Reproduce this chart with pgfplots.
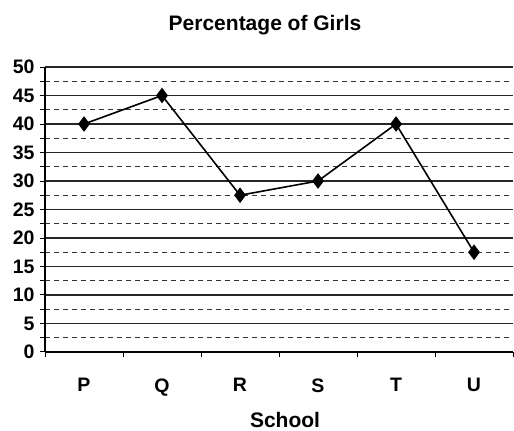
\documentclass[border=0pt]{standalone}
\usepackage{pgfplots}
\pgfplotsset{compat=1.18}
\usepackage{fontspec}
\setmainfont{Liberation Sans}
\begin{document}
\begin{tikzpicture}
\useasboundingbox (0,0) rectangle (514pt,431pt);
\begin{axis}[
  at={(45pt,79pt)}, anchor=origin,
  scale only axis, width=468pt, height=285pt,
  xmin=0, xmax=6, ymin=0, ymax=50,
  axis x line*=bottom, axis y line*=left,
  axis line style={line width=1.6pt},
  x axis line style={-}, y axis line style={-},
  xtick={0.5,1.5,2.5,3.5,4.5,5.5},
  xticklabels={P,Q,R,S,T,U},
  major x tick style={draw=none},
  minor xtick={0,1,2,3,4,5,6},
  minor x tick style={line width=1pt, black},
  ytick={0,5,...,50},
  minor ytick={2.5,7.5,...,47.5},
  tick align=outside,
  major tick length=5pt, minor tick length=5pt,
  y tick style={line width=1pt, black},
  ymajorgrids, yminorgrids,
  major grid style={line width=1.1pt, black!85},
  minor grid style={line width=1pt, black!80, dash pattern=on 5pt off 4pt},
  tick label style={font=\fontsize{19.5}{19.5}\selectfont\bfseries},
  yticklabel style={xshift=-2pt},
  /pgf/number format/assume math mode=true,
  xticklabel style={yshift=-18pt},
  title={Percentage of Girls},
  title style={font=\fontsize{21}{21}\selectfont\bfseries, yshift=23pt, xshift=-14pt},
  xlabel={School},
  xlabel style={font=\fontsize{21}{21}\selectfont\bfseries, yshift=-9pt, xshift=6pt},
  clip=false,
]
\addplot[black, line width=1.6pt, mark=diamond*, mark size=6.5pt, mark options={fill=black}]
  coordinates {(0.5,40) (1.5,45) (2.5,27.5) (3.5,30) (4.5,40) (5.5,17.5)};
\end{axis}
\end{tikzpicture}
\end{document}
